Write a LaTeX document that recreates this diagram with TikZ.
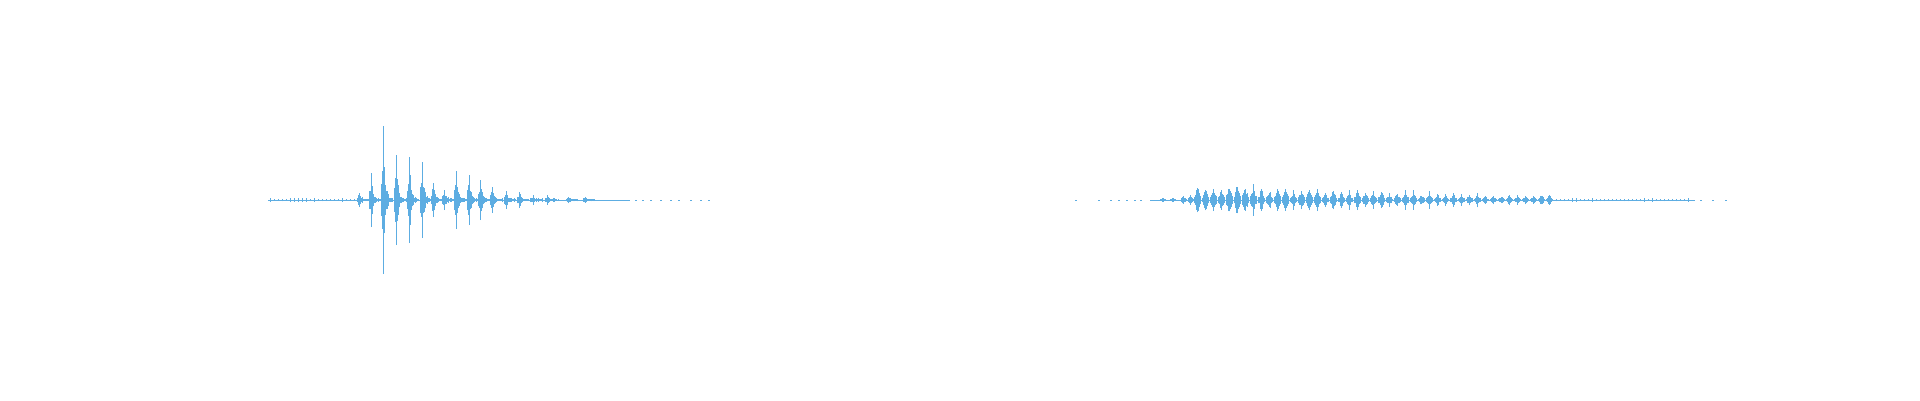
\documentclass[tikz,border=0pt]{standalone}
\definecolor{wave}{RGB}{93,173,226}
\tikzset{wv/.style={draw=wave,line width=1pt}, base/.style={draw=wave,line width=0.7pt}}
\begin{document}
\begin{tikzpicture}[x=1pt,y=1pt]
\pgfmathsetseed{7}
\useasboundingbox (0,0) rectangle (1920,400);
% left waveform baseline and noise
\draw[base] (268,200) -- (630,200);
\foreach \x in {635,642,650,660,670,678,690,700,708} \draw[base] (\x,200) -- (\x+2,200);
\foreach \x in {270,274,...,560} {\pgfmathsetmacro\a{0.5+1.8*rnd}\draw[wv] (\x,200-\a) -- (\x,200+\a);}
% left bursts (x, amplitude)
\foreach \xo/\A in {359/7,371/27,383/74,396/45,409/43,422/38,433/17,444/10,456/29,469/25,480/20,492/13,506/9,519/8,533/5,547/4,568/3,585/2} {
  \foreach \k in {-2,...,9} {
    \pgfmathsetmacro\a{max(0.8,\A*exp(-abs(\k)/1.9)*(0.5+0.5*rnd)+1.5*rnd)}
    \draw[wv] (\xo+\k,200-\a) -- (\xo+\k,200+\a);
  }
  \draw[wv] (\xo,200-\A) -- (\xo,200+\A);
}
% right waveform baseline
\draw[base] (1150,200) -- (1695,200);
\foreach \x in {1075,1098,1110,1118,1126,1134,1140,1700,1712,1725} \draw[base] (\x,200) -- (\x+2,200);
\foreach \xo/\A in {1162/3,1172/3,1183/6,1190/7} {
  \foreach \k in {-2,...,3} {\pgfmathsetmacro\a{max(0.8,\A*exp(-abs(\k)/2)*(0.6+0.4*rnd))}
    \draw[wv] (\xo+\k,200-\a) -- (\xo+\k,200+\a);}
}
\foreach \xo in {1197,1205,...,1550} {
  \pgfmathsetmacro\A{20*exp(-(\xo-1197)/200)*(0.6+0.6*rnd)+2.5}
  \foreach \k in {-3,...,3} {\pgfmathsetmacro\a{max(0.8,\A*exp(-abs(\k)/2.2)*(0.55+0.45*rnd))}
    \draw[wv] (\xo+\k,200-\a) -- (\xo+\k,200+\a);}
}
\foreach \x in {1552,1556,...,1690} {\pgfmathsetmacro\a{0.5+1.5*rnd}\draw[wv] (\x,200-\a) -- (\x,200+\a);}
\end{tikzpicture}
\end{document}
